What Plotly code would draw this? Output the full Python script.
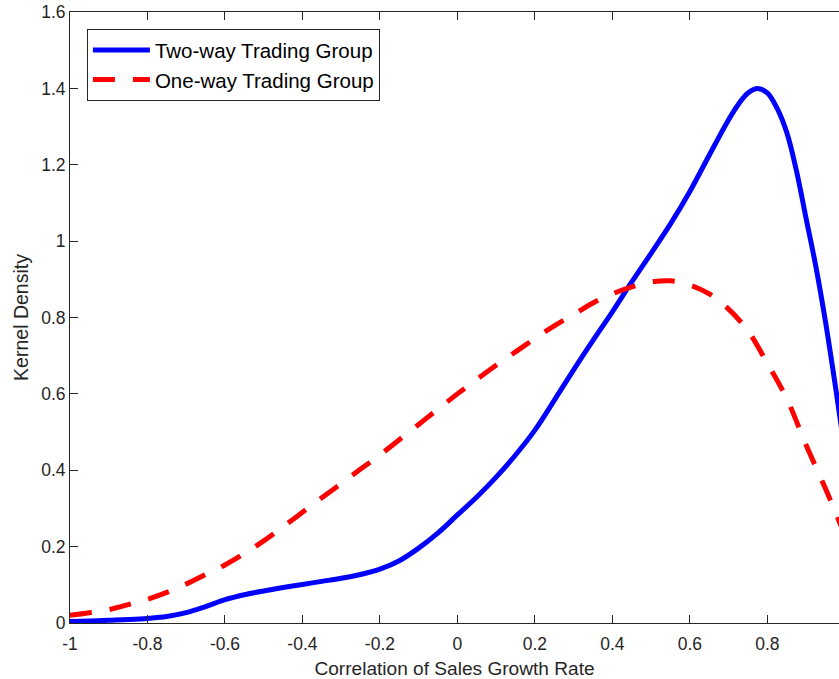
import plotly.graph_objects as go

# Kernel density estimates of the correlation of sales growth rate
corr_two = [-1.00, -0.95, -0.90, -0.85, -0.80, -0.75, -0.70, -0.65, -0.60, -0.55,
            -0.50, -0.45, -0.40, -0.35, -0.30, -0.25, -0.20, -0.15, -0.10, -0.05,
            0.00, 0.05, 0.10, 0.15, 0.20, 0.25, 0.30, 0.35, 0.40, 0.45,
            0.50, 0.55, 0.60, 0.65, 0.70, 0.725, 0.75, 0.775, 0.80, 0.825,
            0.85, 0.875, 0.90, 0.925, 0.95, 0.975, 1.00]
two_way = [0.004, 0.005, 0.007, 0.009, 0.012, 0.017, 0.027, 0.043, 0.061, 0.074,
           0.084, 0.093, 0.101, 0.109, 0.117, 0.127, 0.141, 0.163, 0.196, 0.236,
           0.283, 0.330, 0.382, 0.440, 0.505, 0.583, 0.663, 0.740, 0.815, 0.893,
           0.968, 1.045, 1.130, 1.225, 1.318, 1.358, 1.388, 1.400, 1.388, 1.348,
           1.285, 1.185, 1.060, 0.935, 0.790, 0.625, 0.450]

corr_one = [-1.00, -0.95, -0.90, -0.85, -0.80, -0.75, -0.70, -0.65, -0.60, -0.55,
            -0.50, -0.45, -0.40, -0.35, -0.30, -0.25, -0.20, -0.15, -0.10, -0.05,
            0.00, 0.05, 0.10, 0.15, 0.20, 0.25, 0.30, 0.35, 0.40, 0.45,
            0.50, 0.55, 0.60, 0.65, 0.70, 0.75, 0.80, 0.85, 0.90, 0.95, 1.00]
one_way = [0.020, 0.027, 0.035, 0.048, 0.062, 0.080, 0.102, 0.127, 0.152, 0.182,
           0.215, 0.252, 0.290, 0.328, 0.365, 0.403, 0.440, 0.480, 0.520, 0.560,
           0.600, 0.638, 0.675, 0.710, 0.745, 0.778, 0.808, 0.838, 0.862, 0.880,
           0.893, 0.896, 0.885, 0.862, 0.822, 0.765, 0.680, 0.588, 0.466, 0.352, 0.230]

x_ticks = [-1, -0.8, -0.6, -0.4, -0.2, 0, 0.2, 0.4, 0.6, 0.8, 1]
x_tick_text = ["-1", "-0.8", "-0.6", "-0.4", "-0.2", "0", "0.2", "0.4", "0.6", "0.8", "1"]
y_ticks = [0, 0.2, 0.4, 0.6, 0.8, 1.0, 1.2, 1.4, 1.6]
y_tick_text = ["0", "0.2", "0.4", "0.6", "0.8", "1", "1.2", "1.4", "1.6"]

AXIS_COLOR = "#262626"
FONT = "Liberation Sans, Arial, Helvetica, sans-serif"

fig = go.Figure()
fig.add_trace(go.Scatter(
    x=corr_two, y=two_way, mode="lines", name="Two-way Trading Group",
    line=dict(color="#0000ff", width=5, shape="spline", smoothing=1.0),
))
fig.add_trace(go.Scatter(
    x=corr_one, y=one_way, mode="lines", name="One-way Trading Group",
    line=dict(color="#ff0000", width=5, dash="22px,18px", shape="spline", smoothing=1.0),
))

fig.update_layout(
    width=839, height=679,
    margin=dict(l=70, r=0, t=12, b=56),
    paper_bgcolor="white", plot_bgcolor="white",
    font=dict(family=FONT, color=AXIS_COLOR, size=17),
    showlegend=True,
    legend=dict(
        x=0.022, y=0.972, xanchor="left", yanchor="top",
        bgcolor="white", bordercolor=AXIS_COLOR, borderwidth=1,
        font=dict(family=FONT, size=20.5, color="#000000"),
        tracegroupgap=0, itemwidth=57,
    ),
    xaxis=dict(
        range=[-1, 0.985], tickvals=x_ticks, ticktext=x_tick_text,
        showgrid=False, zeroline=False,
        showline=True, linecolor=AXIS_COLOR, linewidth=1, mirror="ticks",
        ticks="inside", ticklen=8, tickcolor=AXIS_COLOR, tickwidth=1,
        tickfont=dict(size=17.5, color=AXIS_COLOR),
        ticklabelstandoff=5,
        title=dict(text="Correlation of Sales Growth Rate",
                   font=dict(size=19.1, color=AXIS_COLOR), standoff=8),
    ),
    yaxis=dict(
        range=[0, 1.6], tickvals=y_ticks, ticktext=y_tick_text,
        showgrid=False, zeroline=False,
        showline=True, linecolor=AXIS_COLOR, linewidth=1,
        ticks="inside", ticklen=8, tickcolor=AXIS_COLOR, tickwidth=1,
        tickfont=dict(size=17.5, color=AXIS_COLOR),
        title=dict(text="Kernel Density",
                   font=dict(size=19.5, color=AXIS_COLOR), standoff=7),
    ),
)

fig.write_html("out.html")
